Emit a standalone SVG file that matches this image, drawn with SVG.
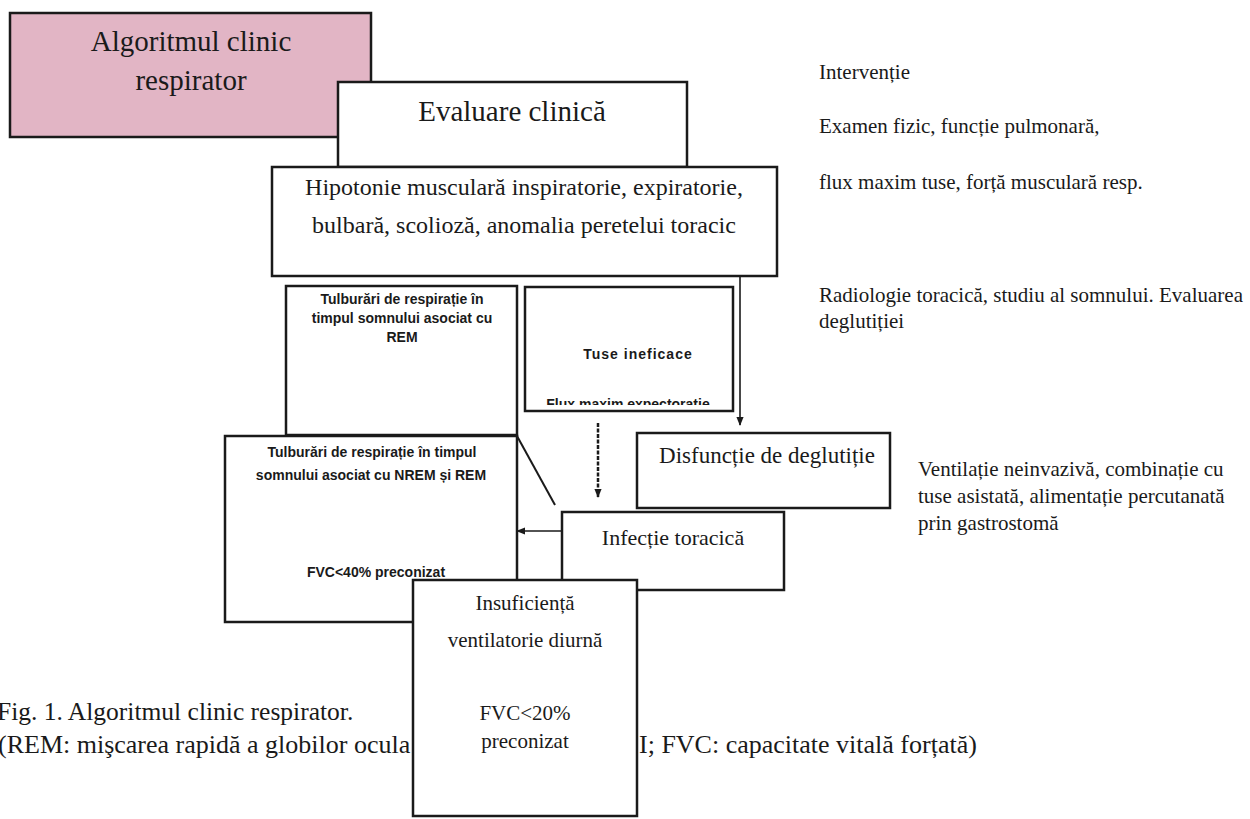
<svg xmlns="http://www.w3.org/2000/svg" width="1250" height="819" viewBox="0 0 1250 819">
<style>
  .box { fill: #ffffff; stroke: #1a1a1a; stroke-width: 2.5; }
  .pink { fill: #e2b5c5; stroke: #1a1a1a; stroke-width: 2.5; }
  .serif { font-family: "Liberation Serif", "Times New Roman", serif; fill: #1a1a1a; }
  .sans { font-family: "Liberation Sans", Arial, sans-serif; font-weight: bold; fill: #1a1a1a; font-size: 14px; }
  .mid { text-anchor: middle; }
  .conn { stroke: #1a1a1a; fill: none; }
  .cap { font-size: 26px; }
</style>
<defs>
  <marker id="ah2" viewBox="0 0 10 10" refX="9" refY="5" markerWidth="9" markerHeight="9" orient="auto" markerUnits="userSpaceOnUse">
    <path d="M0,1 L10,5 L0,9 z" fill="#1a1a1a"/>
  </marker>
  <clipPath id="clipTuse">
    <rect x="525" y="287" width="208" height="118"/>
  </clipPath>
</defs>
<rect width="1250" height="819" fill="#ffffff"/>

<g id="caption">
  <text class="serif" x="-3" y="720" font-size="25.5">Fig. 1. Algoritmul clinic respirator.</text>
  <text class="serif cap" x="-2" y="753">(REM: mişcarea rapidă a globilor ocula</text>
  <text class="serif cap" x="639" y="753">I; FVC: capacitate vitală forțată)</text>
</g>

<g id="node-algoritm">
  <rect class="pink" x="10" y="13" width="361" height="124"/>
  <text class="serif mid" x="191" y="51" font-size="29">Algoritmul clinic</text>
  <text class="serif mid" x="191" y="90" font-size="29">respirator</text>
</g>

<g id="node-evaluare">
  <rect class="box" x="338" y="82" width="349" height="85"/>
  <text class="serif mid" x="512" y="121" font-size="29">Evaluare clinică</text>
</g>

<g id="node-hipotonie">
  <rect class="box" x="272" y="167" width="505" height="109"/>
  <text class="serif mid" x="524" y="195" font-size="24">Hipotonie musculară inspiratorie, expiratorie,</text>
  <text class="serif mid" x="524" y="233" font-size="24">bulbară, scolioză, anomalia peretelui toracic</text>
</g>

<g id="node-rem">
  <rect class="box" x="286" y="286" width="231" height="149"/>
  <text class="sans mid" x="402" y="304">Tulburări de respirație în</text>
  <text class="sans mid" x="402" y="323">timpul somnului asociat cu</text>
  <text class="sans mid" x="402" y="342">REM</text>
</g>

<g id="node-tuse">
  <rect class="box" x="525" y="287" width="208" height="124"/>
  <text class="sans mid" x="638" y="359" letter-spacing="1">Tuse ineficace</text>
  <text class="sans mid" x="628" y="409" clip-path="url(#clipTuse)">Flux maxim expectoratie</text>
</g>

<g id="node-nrem">
  <rect class="box" x="225" y="436" width="292" height="186"/>
  <text class="sans mid" x="372" y="457">Tulburări de respirație în timpul</text>
  <text class="sans mid" x="371" y="480">somnului asociat cu NREM și REM</text>
  <text class="sans mid" x="376" y="577">FVC&lt;40% preconizat</text>
</g>

<g id="node-disfunctie">
  <rect class="box" x="637" y="433" width="253" height="75"/>
  <text class="serif mid" x="767" y="463" font-size="23">Disfuncție de deglutiție</text>
</g>

<g id="node-infectie">
  <rect class="box" x="562" y="512" width="222" height="78"/>
  <text class="serif mid" x="673" y="545" font-size="22">Infecție toracică</text>
</g>

<g id="node-insuficienta">
  <rect class="box" x="413" y="580" width="224" height="236"/>
  <text class="serif mid" x="525" y="610" font-size="21">Insuficiență</text>
  <text class="serif mid" x="525" y="647" font-size="21">ventilatorie diurnă</text>
  <text class="serif mid" x="525" y="720" font-size="21">FVC&lt;20%</text>
  <text class="serif mid" x="525" y="748" font-size="21">preconizat</text>
</g>

<g id="connectors">
  <line class="conn" x1="740" y1="276" x2="740" y2="425" stroke-width="1.6" marker-end="url(#ah2)"/>
  <line class="conn" x1="517" y1="436" x2="555" y2="505" stroke-width="2"/>
  <line class="conn" x1="598" y1="423" x2="598" y2="497" stroke-width="2.5" stroke-dasharray="4,1.5" marker-end="url(#ah2)"/>
  <line class="conn" x1="561" y1="531" x2="517" y2="531" stroke-width="1.3" stroke="#444" marker-end="url(#ah2)"/>
</g>

<g id="side-notes">
  <text class="serif" x="819" y="79" font-size="21">Intervenție</text>
  <text class="serif" x="819" y="133" font-size="21">Examen fizic, funcție pulmonară,</text>
  <text class="serif" x="819" y="189" font-size="21">flux maxim tuse, forță musculară resp.</text>
  <text class="serif" x="819" y="302" font-size="21">Radiologie toracică, studiu al somnului. Evaluarea</text>
  <text class="serif" x="819" y="328" font-size="21">deglutiției</text>
  <text class="serif" x="918" y="476" font-size="21">Ventilație neinvazivă, combinație cu</text>
  <text class="serif" x="918" y="503" font-size="21">tuse asistată, alimentație percutanată</text>
  <text class="serif" x="918" y="530" font-size="21">prin gastrostomă</text>
</g>
</svg>
